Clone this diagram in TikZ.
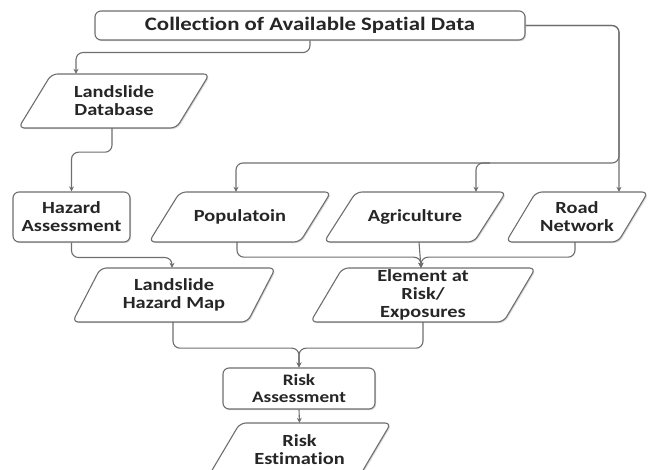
\documentclass[tikz,border=0pt]{standalone}
\usepackage{fontspec}
\setmainfont{Carlito}[FakeStretch=1.2, Ligatures=NoCommon]
\newfontfamily\capfont{Liberation Serif}
\usetikzlibrary{arrows.meta,shadows}
\definecolor{edge}{HTML}{6E6E6E}
\definecolor{txt}{HTML}{262626}
\tikzset{
  lbl/.style={text=txt, font=\bfseries\fontsize{17}{18}\selectfont, align=center, inner sep=0pt},
  rbox/.style={lbl, draw=edge, line width=1.1pt, rounded corners=6pt, fill=white,
    drop shadow={shadow xshift=1.2pt, shadow yshift=-1.2pt, fill=black, opacity=0.15}},
  pshape/.style={draw=edge, line width=1.1pt, rounded corners=6pt, fill=white},
  pshadow/.style={fill=black, opacity=0.15, rounded corners=6pt},
  conn/.style={draw=edge, line width=1.1pt, rounded corners=7pt, -{Stealth[length=5pt,width=5pt]}}
}
% name, cx, cy, width, height, slant, text
\newcommand{\parabox}[7]{%
  \begin{scope}[xshift=1.2pt,yshift=-1.2pt]
    \fill[pshadow] ({#2-#4/2-#6/2},{#3+#5/2}) -- ({#2+#4/2-#6/2},{#3+#5/2}) -- ({#2+#4/2+#6/2},{#3-#5/2}) -- ({#2-#4/2+#6/2},{#3-#5/2}) -- cycle;
  \end{scope}
  \filldraw[pshape] ({#2-#4/2-#6/2},{#3+#5/2}) -- ({#2+#4/2-#6/2},{#3+#5/2}) -- ({#2+#4/2+#6/2},{#3-#5/2}) -- ({#2-#4/2+#6/2},{#3-#5/2}) -- cycle;
  \node[lbl, minimum width=#4pt, minimum height=#5pt] (#1) at (#2,#3) {#7};%
}
\begin{document}
\begin{tikzpicture}[x=1pt, y=-1pt]
\useasboundingbox (0,0) rectangle (648,470);
\clip (0,0) rectangle (648,470);

\begin{scope}[y=1pt]
\node[anchor=base west, font=\capfont\fontsize{25}{25}\selectfont, inner sep=0pt] (cap) at (95pt,9pt) {overview of methodology is presented in figure};
\end{scope}

\node[rbox, minimum width=430pt, minimum height=29pt, font=\bfseries\fontsize{19}{20}\selectfont] (top) at (310,25.5) {Collection of Available Spatial Data};

\parabox{db}{114}{101}{158}{54}{33}{Landslide\\Database}
\node[rbox, minimum width=117pt, minimum height=50pt] (ha) at (71.5,217) {Hazard\\Assessment};
\parabox{pop}{240}{217}{151}{50}{31}{Populatoin}
\parabox{agr}{415}{217}{150}{50}{32}{Agriculture}
\parabox{road}{577}{217}{112}{50}{30}{Road\\Network}
\parabox{lhm}{174}{295}{175}{54}{28}{Landslide\\Hazard Map}
\parabox{ear}{423}{295}{193}{54}{32}{Element at\\Risk/\\Exposures}
\node[rbox, minimum width=152pt, minimum height=41pt, font=\bfseries\fontsize{16}{17}\selectfont] (ra) at (299,388.5) {Risk\\Assessment};
\parabox{rest}{299.5}{450}{151}{54}{32}{Risk\\Estimation}

\draw[conn] (top.south) -- ++(0,12) -| ([xshift=-38pt]db.north);
\draw[conn] ([xshift=-2pt]db.south) -- ++(0,24) -| (ha.north);
\draw[conn] (top.east) -| ([xshift=42pt]road.north);
\draw[conn] (top.east) -| (619,163) -| ([xshift=-4pt]pop.north);
\draw[conn] (490,163) -| ([xshift=61pt]agr.north);
\draw[conn] (ha.south) -- ++(0,15) -| ([xshift=-2pt]lhm.north);
\draw[conn] ([xshift=-3pt]pop.south) -- ++(0,15) -| ([xshift=-2pt]ear.north);
\draw[conn] ([xshift=4pt]agr.south) -- ([xshift=-2pt]ear.north);
\draw[conn] ([xshift=-2pt]road.south) -- ++(0,15) -| ([xshift=-2pt]ear.north);
\draw[conn] ([xshift=-1pt]lhm.south) -- ++(0,26) -| (ra.north);
\draw[conn] (ear.south) -- ++(0,26) -| (ra.north);
\draw[conn] (ra.south) -- (rest.north);
\end{tikzpicture}
\end{document}
